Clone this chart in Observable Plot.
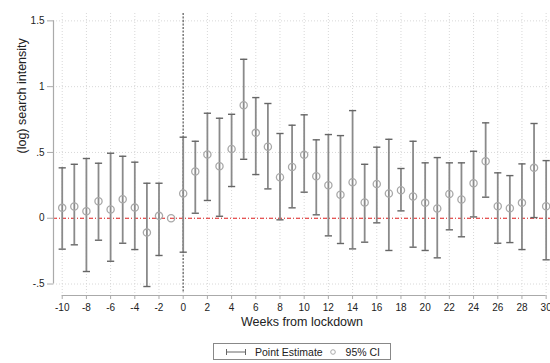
<!DOCTYPE html>
<html>
<head>
<meta charset="utf-8">
<script src="https://cdn.jsdelivr.net/npm/d3@7"></script>
<script src="https://cdn.jsdelivr.net/npm/@observablehq/plot@0.6"></script>
<style>
  body { margin: 0; background: #fff; font-family: "Liberation Sans", Arial, sans-serif; }
  #wrap { position: relative; width: 550px; height: 363px; }
  #legend { position: absolute; left: 213px; top: 343px; width: 178px; height: 17px;
    border: 1px solid #888; display: flex; align-items: center; justify-content: space-between;
    font-size: 10.5px; color: #222; box-sizing: border-box; padding: 0 10px 0 12px; }
  #legend span { display: inline-flex; align-items: center; gap: 9px; }
</style>
</head>
<body>
<div id="wrap">
  <div id="chart"></div>
  <div id="legend">
    <span><svg width="20" height="8"><line x1="0.5" y1="4" x2="19.5" y2="4" stroke="#666" stroke-width="1"/><line x1="0.5" y1="1" x2="0.5" y2="7" stroke="#666"/><line x1="19.5" y1="1" x2="19.5" y2="7" stroke="#666"/></svg>Point Estimate</span>
    <span><svg width="8" height="8"><circle cx="4" cy="4" r="2.3" fill="none" stroke="#aaa" stroke-width="1"/></svg>95% CI</span>
  </div>
</div>
<script>
const weeks = [-10,-9,-8,-7,-6,-5,-4,-3,-2,-1,0,1,2,3,4,5,6,7,8,9,10,11,12,13,14,15,16,17,18,19,20,21,22,23,24,25,26,27,28,29,30];
const estimate = [0.079,0.089,0.053,0.129,0.066,0.145,0.081,-0.109,0.018,0,0.188,0.355,0.484,0.395,0.527,0.859,0.649,0.543,0.312,0.39,0.482,0.32,0.251,0.178,0.274,0.12,0.261,0.188,0.213,0.165,0.117,0.074,0.185,0.142,0.266,0.433,0.091,0.076,0.117,0.383,0.091];
const lower = [-0.235,-0.202,-0.405,-0.167,-0.327,-0.19,-0.238,-0.519,-0.283,null,-0.258,0.038,0.135,0.015,0.241,0.448,0.332,0.223,-0.012,0.079,0.198,0.026,-0.134,-0.192,-0.233,-0.182,-0.035,-0.245,0.056,-0.22,-0.245,-0.301,-0.088,-0.141,0.01,0.16,-0.19,-0.185,-0.238,0.005,-0.316];
const upper = [0.383,0.41,0.454,0.418,0.494,0.471,0.426,0.266,0.266,null,0.616,0.585,0.798,0.76,0.79,1.208,0.917,0.872,0.644,0.707,0.786,0.596,0.636,0.628,0.818,0.41,0.54,0.60,0.378,0.585,0.421,0.461,0.421,0.421,0.509,0.725,0.345,0.324,0.413,0.72,0.438];
const xTicks = [-10,-8,-6,-4,-2,0,2,4,6,8,10,12,14,16,18,20,22,24,26,28,30];
const yTicks = [-0.5,0,0.5,1,1.5];
const yTickLabels = ["-.5","0",".5","1","1.5"];
const xLabel = "Weeks from lockdown";
const yLabel = "(log) search intensity";

const data = weeks.map((w, i) => ({week: w, est: estimate[i], lo: lower[i], hi: upper[i]}));
const ci = data.filter(d => d.lo != null);

const capSymbol = {
  draw(ctx, size) {
    const h = Math.sqrt(size / Math.PI);
    ctx.moveTo(-h, 0);
    ctx.lineTo(h, 0);
  }
};

const xDomain = [-10.72, 30.36];
const yDomain = [-0.572, 1.556];

const chart = Plot.plot({
  width: 550,
  height: 335,
  marginTop: 13,
  marginBottom: 42,
  marginLeft: 53,
  marginRight: 0,
  style: {fontFamily: "Liberation Sans, Arial, sans-serif", fontSize: "10px", color: "#222", background: "#fff"},
  x: {domain: xDomain},
  y: {domain: yDomain},
  marks: [
    Plot.ruleX(xTicks, {stroke: "#d8d8d8", strokeWidth: 1, strokeDasharray: "1,2"}),
    Plot.ruleY(yTicks, {stroke: "#d8d8d8", strokeWidth: 1, strokeDasharray: "1,2"}),
    Plot.ruleX([0], {stroke: "#7a7a7a", strokeWidth: 1.5, strokeDasharray: "2,1.5"}),
    Plot.ruleY([0], {stroke: "#e32020", strokeWidth: 1.2, strokeDasharray: "4,2,1,2"}),
    Plot.ruleX(ci, {x: "week", y1: "lo", y2: "hi", stroke: "#8a8a8a", strokeWidth: 1.8}),
    Plot.dot(ci, {x: "week", y: "hi", symbol: capSymbol, r: 3.6, stroke: "#666", strokeWidth: 1.4}),
    Plot.dot(ci, {x: "week", y: "lo", symbol: capSymbol, r: 3.6, stroke: "#666", strokeWidth: 1.4}),
    Plot.dot(data, {x: "week", y: "est", r: 3.6, stroke: "#a8a8a8", strokeWidth: 1.3, fill: "none"}),
    // axis lines
    Plot.ruleY([yDomain[0]], {x1: xTicks[0], x2: xTicks[xTicks.length - 1], dy: 2, stroke: "#aaa", strokeWidth: 1.2}),
    Plot.ruleX([xDomain[0]], {y1: yTicks[0], y2: yTicks[yTicks.length - 1], stroke: "#aaa", strokeWidth: 1.2}),
    Plot.axisX({ticks: xTicks, tickFormat: d => String(d), tickSize: 4, tickPadding: 4, dy: 2, stroke: "#aaa", label: null, fontSize: 10, fill: "#222"}),
    Plot.axisY({ticks: yTicks, tickFormat: d => yTickLabels[yTicks.indexOf(d)], tickSize: 6, tickPadding: 3, stroke: "#aaa", label: null, fontSize: 10, fill: "#222"}),
    Plot.text([xLabel], {frameAnchor: "bottom", dy: 32, fontSize: 12.5, fill: "#222"}),
    Plot.text([yLabel], {frameAnchor: "left", dx: -32, rotate: -90, fontSize: 12.5, fill: "#222"})
  ]
});
document.getElementById("chart").appendChild(chart);
</script>
</body>
</html>
